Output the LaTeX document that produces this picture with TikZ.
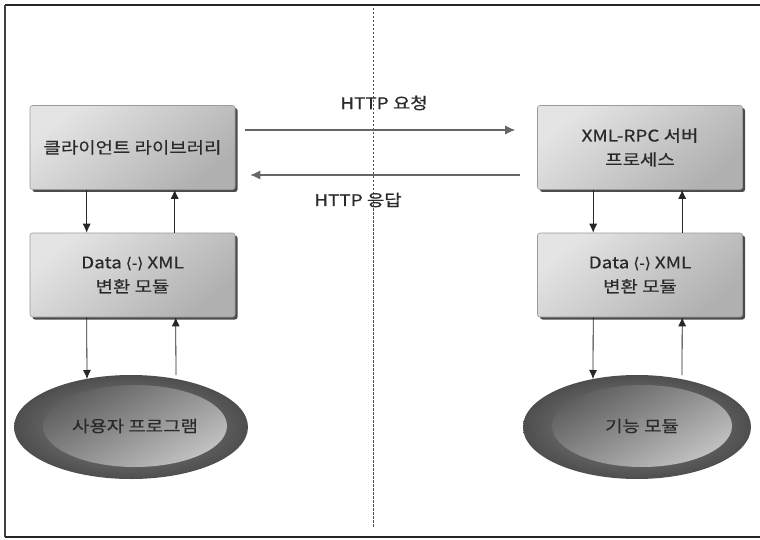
\documentclass[tikz,border=0pt]{standalone}
\usepackage{fontspec}
\newfontfamily\kr[FakeStretch=1.18,FakeBold=0.5]{Noto Sans CJK KR}
\newfontfamily\dv[FakeBold=0.5]{DejaVu Sans}
\usetikzlibrary{shapes.geometric,shadows,calc,arrows.meta}

\definecolor{boxA}{HTML}{E4E4E4}
\definecolor{boxB}{HTML}{B0B0B0}
\definecolor{boxEdge}{HTML}{9A9A9A}
\definecolor{ringIn}{HTML}{8E8E8E}
\definecolor{ringOut}{HTML}{4E4E4E}
\definecolor{coreTop}{HTML}{5E5E5E}
\definecolor{coreBot}{HTML}{C2C2C2}
\definecolor{ink}{HTML}{2A2A2A}

% angle-bracketed arrow between Data and XML
\newcommand{\dxarrow}{{\dv\fontsize{15}{15}\selectfont ⟨-⟩}}

\begin{document}
\begin{tikzpicture}[x=1pt,y=-1pt,
  font=\kr\fontsize{16}{24}\selectfont,
  module/.style={rounded corners=2.5pt, minimum width=205pt, minimum height=84pt,
    inner sep=0pt, align=center, text=ink, draw=boxEdge, line width=0.6pt,
    top color=boxA, bottom color=boxB, shading angle=40,
    drop shadow={shadow xshift=2.5pt, shadow yshift=-2.5pt, fill=black!70, opacity=1}},
  ring/.style={ellipse, inner sep=0pt, draw=none,
    inner color=ringIn, outer color=ringOut},
  core/.style={ellipse, inner sep=0pt, draw=none, text=ink,
    top color=coreTop, bottom color=coreBot, shading angle=30},
  flow/.style={draw=black!85, line width=0.8pt, -{Latex[length=9pt,width=8pt]}},
  wire/.style={draw=black!60, line width=1.1pt, -{Latex[length=10pt,width=9pt]}},
  lbl/.style={text=ink, inner sep=0pt}
]
\useasboundingbox (0,0) rectangle (760,540);
\fill[white] (0,0) rectangle (760,540);

% outer frame (open on the right)
\draw[black!85, line width=2pt] (760,5) -- (5,5);
\draw[black!75, line width=1.2pt] (5,5) -- (5,537);
\draw[black!85, line width=2pt] (5,537) -- (760,537);

% dividing line between client and server
\coordinate (divtop) at (373,8);
\coordinate (divbot) at (373,528);
\draw[black!70, line width=0.8pt, dash pattern=on 2.5pt off 1.5pt] (divtop) -- (divbot);

% client side
\node[module] (lib)   at (132.5,147.5) {클라이언트 라이브러리};
\node[module] (conv1) at (132.5,275) {Data \dxarrow{} XML\\변환 모듈};
\node[ring, minimum width=234pt, minimum height=104pt] (user) at (131,427) {};
\node[core, minimum width=184pt, minimum height=82pt] (userin) at (135,426) {사용자 프로그램};

% server side
\node[module] (srv)   at (640,147.5) {XML-RPC 서버\\프로세스};
\node[module] (conv2) at (640,275) {Data \dxarrow{} XML\\변환 모듈};
\node[ring, minimum width=228pt, minimum height=104pt] (func) at (637,427) {};
\node[core, minimum width=180pt, minimum height=82pt] (funcin) at (642,426) {기능 모듈};

% HTTP request / response
\draw[wire] ($(lib.east)+(10,-17.5)$) -- ($(srv.west)+(-22,-17.5)$);
\node[lbl] (req) at (384,103) {HTTP 요청};
\draw[wire] ($(srv.west)+(-17,27.5)$) -- ($(lib.east)+(15,27.5)$);
\node[lbl] (resp) at (358,200) {HTTP 응답};

% client stack
\draw[flow] ($(lib.south west)+(57,0)$) -- ($(conv1.north west)+(57,0)$);
\draw[flow] ($(conv1.north west)+(145,0)$) -- ($(lib.south west)+(145,0)$);
\draw[flow] ($(conv1.south west)+(57,0)$) -- ($(user.center)+(-44,-48)$);
\draw[flow] ($(user.center)+(45,-52)$) -- ($(conv1.south west)+(146,0)$);

% server stack
\draw[flow] ($(srv.south west)+(56,0)$) -- ($(conv2.north west)+(56,0)$);
\draw[flow] ($(conv2.north west)+(145,0)$) -- ($(srv.south west)+(145,0)$);
\draw[flow] ($(conv2.south west)+(56,0)$) -- ($(func.center)+(-44,-48)$);
\draw[flow] ($(func.center)+(45,-52)$) -- ($(conv2.south west)+(145,0)$);
\end{tikzpicture}
\end{document}
